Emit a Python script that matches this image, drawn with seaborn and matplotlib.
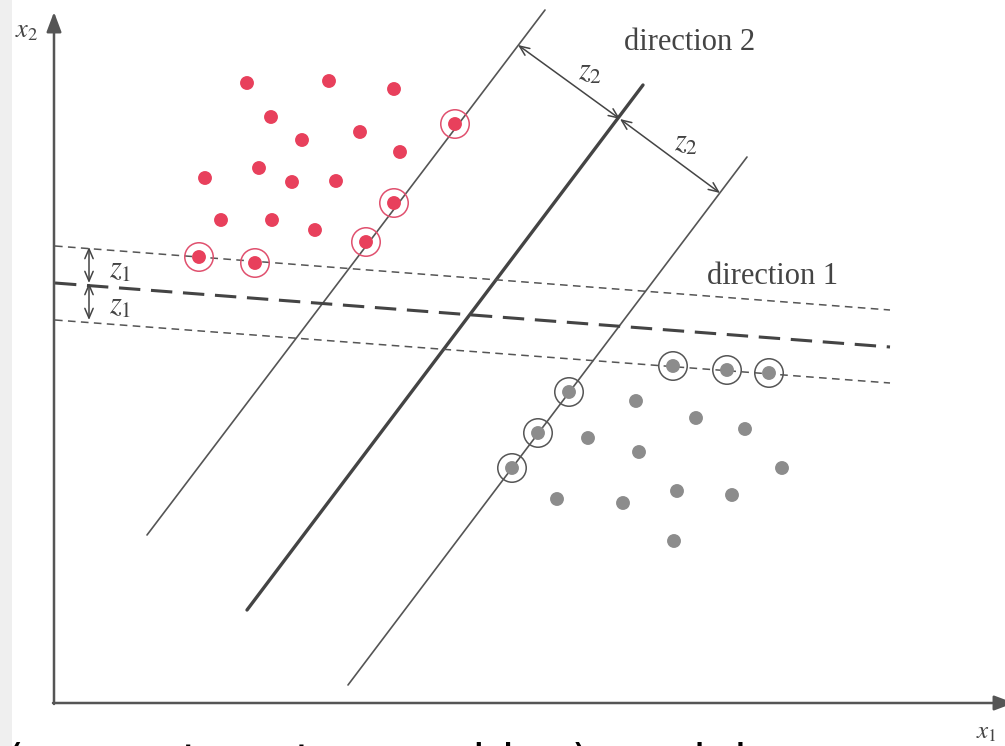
import matplotlib
matplotlib.use("Agg")
import matplotlib.pyplot as plt
import numpy as np
import pandas as pd
import seaborn as sns

# Points (pixel coords, y grows downward)
red_x = [247, 329, 394, 271, 360, 302, 400, 259, 292, 336, 205, 221, 272, 315]
red_y = [83, 81, 89, 117, 132, 140, 152, 168, 182, 181, 178, 220, 220, 230]
red_sv_x = [455, 394, 366, 199, 255]
red_sv_y = [124, 203, 242, 257, 263]

gray_x = [636, 696, 745, 588, 639, 782, 557, 623, 677, 732, 674]
gray_y = [401, 418, 429, 438, 452, 468, 499, 503, 491, 495, 541]
gray_sv_x = [673, 727, 769, 569, 538, 512]
gray_sv_y = [366, 370, 373, 392, 433, 468]

# direction 2 (solid) lines: x0, y0, x1, y1
dir2_left = [147, 535, 545, 10]
dir2_mid = [247, 610, 643, 85]
dir2_right = [348, 685, 747, 157]

# direction 1 (dashed) lines
dir1_top = [55, 246, 890, 310]
dir1_mid = [55, 283, 890, 347]
dir1_bot = [55, 320, 890, 383]

df = pd.concat([
    pd.DataFrame({"x": red_x + red_sv_x, "y": red_y + red_sv_y, "cls": "red"}),
    pd.DataFrame({"x": gray_x + gray_sv_x, "y": gray_y + gray_sv_y, "cls": "gray"}),
], ignore_index=True)
sv = pd.concat([
    pd.DataFrame({"x": red_sv_x, "y": red_sv_y, "cls": "red"}),
    pd.DataFrame({"x": gray_sv_x, "y": gray_sv_y, "cls": "gray"}),
], ignore_index=True)

sns.set_style("white")
plt.rcParams["mathtext.fontset"] = "stix"

fig = plt.figure(figsize=(10.05, 7.46), dpi=100)
ax = fig.add_axes([0, 0, 1, 1])
ax.set_xlim(0, 1005)
ax.set_ylim(746, 0)
ax.axis("off")

# scan shading on the left edge
ax.axvspan(0, 12, color="#efefef", lw=0)

line_col = "#555555"

def seg(l, **kw):
    ax.plot([l[0], l[2]], [l[1], l[3]], **kw)

seg(dir2_left, color=line_col, lw=1.2)
seg(dir2_mid, color="#444444", lw=2.4)
seg(dir2_right, color=line_col, lw=1.2)
seg(dir1_top, color=line_col, lw=1.1, dashes=(5, 3.5))
seg(dir1_mid, color="#444444", lw=2.2, dashes=(7, 3.5))
seg(dir1_bot, color=line_col, lw=1.1, dashes=(5, 3.5))

# axes with arrows
ax.annotate("", xy=(54, 12), xytext=(54, 704), annotation_clip=False,
            arrowprops=dict(arrowstyle="-|>,head_length=1.2,head_width=0.45",
                            color="#555555", lw=1.8, shrinkA=0, shrinkB=0))
ax.annotate("", xy=(1014, 703), xytext=(53, 703), annotation_clip=False,
            arrowprops=dict(arrowstyle="-|>,head_length=1.2,head_width=0.45",
                            color="#555555", lw=1.8, shrinkA=0, shrinkB=0))

# points
sns.scatterplot(data=df, x="x", y="y", hue="cls",
                palette={"red": "#e8405c", "gray": "#8c8c8c"},
                s=100, linewidth=0, legend=False, ax=ax, zorder=5)
sns.scatterplot(data=sv, x="x", y="y", hue="cls",
                palette={"red": "#e0506e", "gray": "#555555"},
                s=420, linewidth=1.1, legend=False, ax=ax, zorder=4)
# seaborn fills markers with hue colour; turn them into hollow rings
ring = ax.collections[-1]
ring.set_facecolor("none")
ring.set_edgecolor([("#e0506e" if k == "red" else "#555555") for k in sv["cls"]])

# margin arrows
arr = dict(arrowstyle="<->,head_length=0.7,head_width=0.3", color="#444444",
           lw=1.1, shrinkA=0, shrinkB=0)
ax.annotate("", xy=(89, 247), xytext=(89, 283), arrowprops=arr)
ax.annotate("", xy=(89, 283), xytext=(89, 320), arrowprops=arr)
ax.annotate("", xy=(518, 45), xytext=(620, 119), arrowprops=arr)
ax.annotate("", xy=(620, 119), xytext=(720, 193), arrowprops=arr)

lab = dict(color="#444444", fontsize=22, ha="center", va="center")
ax.text(120, 270, r"$z_1$", **lab)
ax.text(120, 306, r"$z_1$", **lab)
ax.text(590, 72, r"$z_2$", **lab)
ax.text(686, 143, r"$z_2$", **lab)
ax.text(27, 30, r"$x_2$", color="#444444", fontsize=19, ha="center", va="center")
ax.text(986, 732, r"$x_1$", color="#444444", fontsize=18, ha="center", va="center")

ax.text(690, 43, "direction 2", family="Liberation Serif", fontsize=22,
        color="#444444", ha="center", va="center")
ax.text(773, 277, "direction 1", family="Liberation Serif", fontsize=22,
        color="#444444", ha="center", va="center")

# caption cut off at the bottom edge
fig.text(0.006, -0.042, "(support vector machine) model", family="DejaVu Sans",
         fontsize=33, color="black", ha="left", va="baseline")

fig.savefig("out.png", dpi=100)
